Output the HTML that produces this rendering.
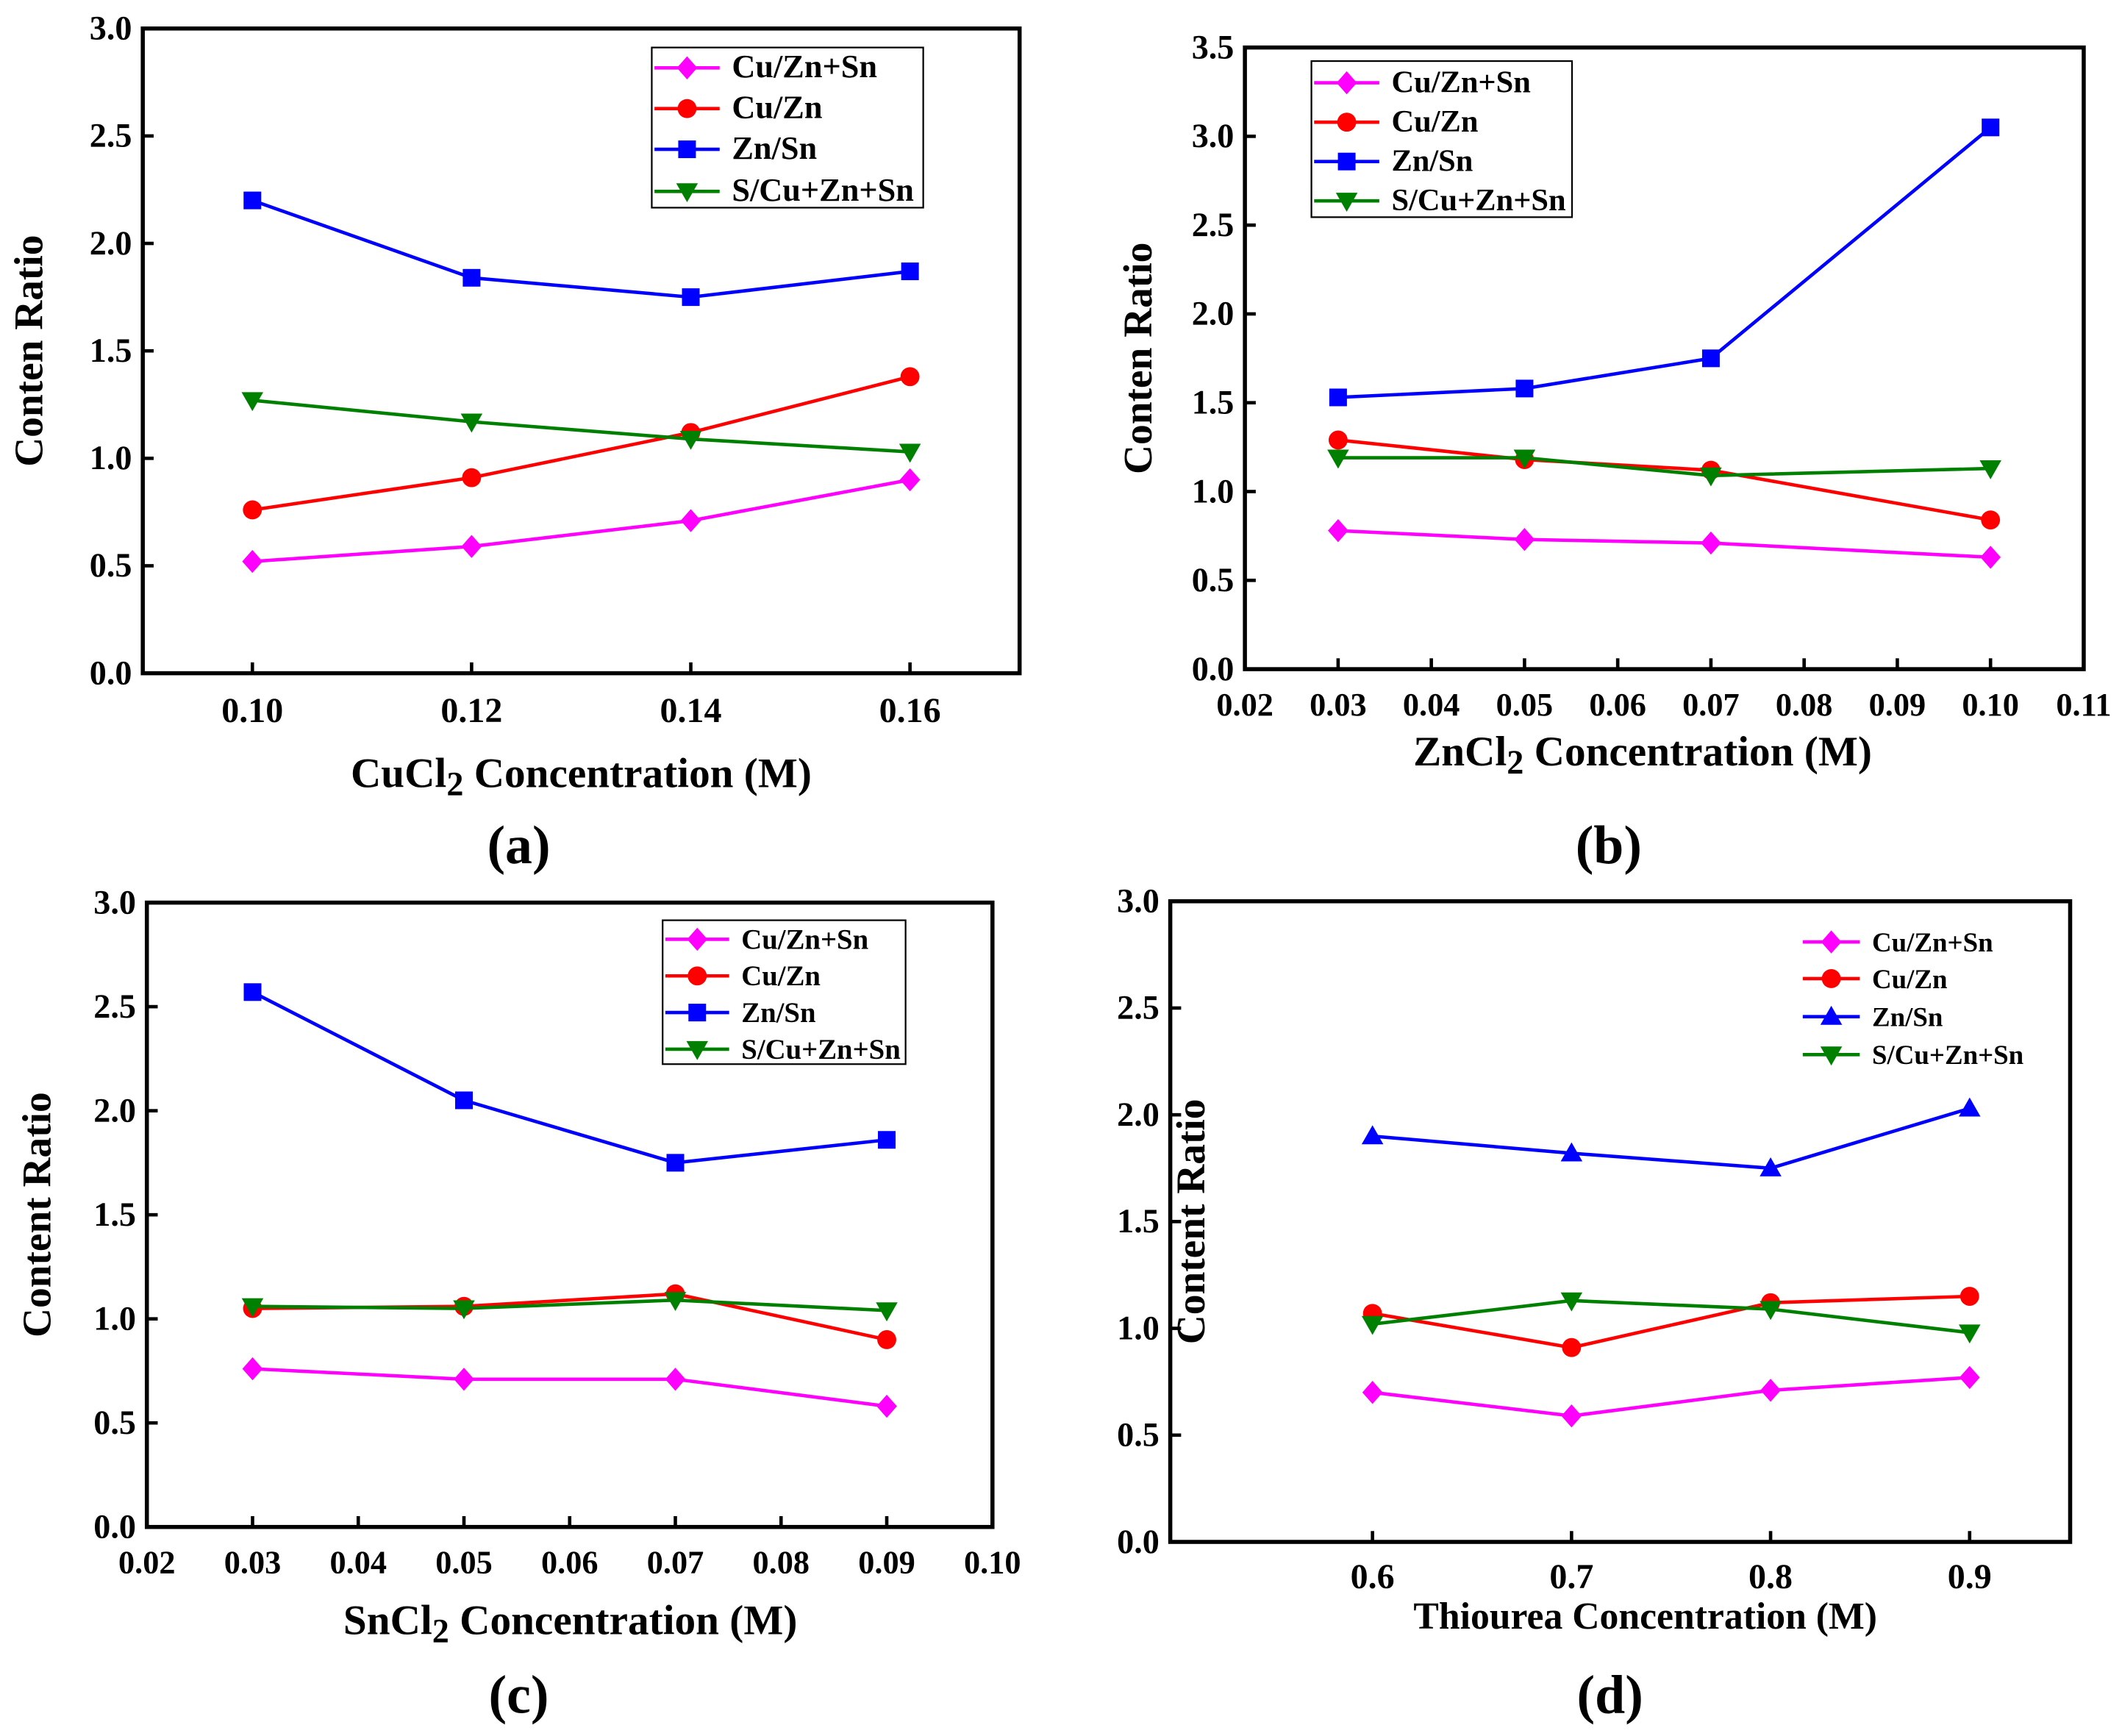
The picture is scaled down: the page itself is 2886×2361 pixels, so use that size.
<!DOCTYPE html>
<html><head><meta charset="utf-8"><style>
html,body{margin:0;padding:0;background:#fff}
svg{display:block}
text{font-family:"Liberation Serif",serif;font-weight:bold;fill:#000}
</style></head><body>
<svg id="fig" width="2886" height="2361" viewBox="0 0 1563 1279" xmlns="http://www.w3.org/2000/svg"></svg>
<script>
const seriesNames = ["Cu/Zn+Sn","Cu/Zn","Zn/Sn","S/Cu+Zn+Sn"];
const xA = [0.10,0.12,0.14,0.16];
const cuZnSnA = [0.52,0.59,0.71,0.90];
const cuZnA = [0.76,0.91,1.12,1.38];
const znSnA = [2.20,1.84,1.75,1.87];
const sA = [1.27,1.17,1.09,1.03];
const xB = [0.03,0.05,0.07,0.10];
const cuZnSnB = [0.78,0.73,0.71,0.63];
const cuZnB = [1.29,1.18,1.12,0.84];
const znSnB = [1.53,1.58,1.75,3.05];
const sB = [1.19,1.19,1.09,1.13];
const xC = [0.03,0.05,0.07,0.09];
const cuZnSnC = [0.76,0.71,0.71,0.58];
const cuZnC = [1.05,1.06,1.12,0.90];
const znSnC = [2.57,2.05,1.75,1.86];
const sC = [1.06,1.05,1.09,1.04];
const xD = [0.6,0.7,0.8,0.9];
const cuZnSnD = [0.70,0.59,0.71,0.77];
const cuZnD = [1.07,0.91,1.12,1.15];
const znSnD = [1.90,1.82,1.75,2.03];
const sD = [1.02,1.13,1.09,0.98];
const xTicksA = ["0.10","0.12","0.14","0.16"];
const xTicksB = ["0.02","0.03","0.04","0.05","0.06","0.07","0.08","0.09","0.10","0.11"];
const xTicksC = ["0.02","0.03","0.04","0.05","0.06","0.07","0.08","0.09","0.10"];
const xTicksD = ["0.6","0.7","0.8","0.9"];
const yTicks3 = ["0.0","0.5","1.0","1.5","2.0","2.5","3.0"];
const yTicks35 = ["0.0","0.5","1.0","1.5","2.0","2.5","3.0","3.5"];

const NS="http://www.w3.org/2000/svg";
const svg=document.getElementById('fig');
const colors=["#ff00ff","#ff0000","#0000ff","#008000"];
function mk(tag,attrs,parent){const e=document.createElementNS(NS,tag);for(const k in attrs)e.setAttribute(k,attrs[k]);(parent||svg).appendChild(e);return e;}
function marker(g,type,x,y,c){
  const s=7.5;let e;
  if(type==='diamond')e=mk('polygon',{points:`${x},${y-s-1} ${x+s},${y} ${x},${y+s+1} ${x-s},${y}`,fill:c},g);
  else if(type==='circle')e=mk('circle',{cx:x,cy:y,r:7,fill:c},g);
  else if(type==='square')e=mk('rect',{x:x-6.5,y:y-6.5,width:13,height:13,fill:c},g);
  else if(type==='up')e=mk('polygon',{points:`${x},${y-8} ${x+8},${y+6} ${x-8},${y+6}`,fill:c},g);
  else e=mk('polygon',{points:`${x-8},${y-6} ${x+8},${y-6} ${x},${y+8}`,fill:c},g);
  
  
}
function panel(p){
  const g=mk('g',{});
  
  
  const X=v=>p.l+(v-p.x0)/(p.x1-p.x0)*(p.r-p.l);
  const Y=v=>p.b-(v-p.y0)/(p.y1-p.y0)*(p.b-p.t);
  p.yt.forEach(lbl=>{const v=parseFloat(lbl);const y=Y(v);
    mk('line',{x1:p.l,y1:y,x2:p.l+8,y2:y,stroke:'#000','stroke-width':2.5},g);
    const t=mk('text',{x:p.l-8,y:y+8,'text-anchor':'end','font-size':25},g);t.textContent=lbl;
    });
  p.xt.forEach(lbl=>{const v=parseFloat(lbl);const x=X(v);
    mk('line',{x1:x,y1:p.b,x2:x,y2:p.b-8,stroke:'#000','stroke-width':2.5},g);
    const t=mk('text',{x:x,y:p.xly,'text-anchor':'middle','font-size':p.xfs||26},g);t.textContent=lbl;
    });
  const ax=mk('rect',{x:p.l,y:p.t,width:p.r-p.l,height:p.b-p.t,fill:'none',stroke:'#000','stroke-width':3},g);
  
  const types=['diamond','circle',p.znType,'down'];
  p.series.forEach((arr,i)=>{
    const pts=arr.map((v,j)=>X(p.xs[j])+','+Y(v)).join(' ');
    const pl=mk('polyline',{points:pts,fill:'none',stroke:colors[i],'stroke-width':2.5},g);
    
    
    arr.forEach((v,j)=>marker(g,types[i],X(p.xs[j]),Y(v),colors[i]));
  });
  const lg=mk('g',{},g);
  
  if(p.lbox)mk('rect',{x:p.lbox[0],y:p.lbox[1],width:p.lbox[2],height:p.lbox[3],fill:'#fff',stroke:'#000','stroke-width':1.2},lg);
  seriesNames.forEach((n,i)=>{const y=p.ly[i];
    mk('line',{x1:p.lx,y1:y,x2:p.lx+p.lw,y2:y,stroke:colors[i],'stroke-width':2.5},lg);
    marker(lg,types[i],p.lx+p.lw/2,y,colors[i]);
    const t=mk('text',{x:p.lx+p.lw+9,y:y+7,'font-size':p.lfs},lg);t.textContent=n;
    });
  const yt=mk('text',{x:0,y:0,'text-anchor':'middle','font-size':30,transform:`translate(${p.ytx},${(p.t+p.b)/2}) rotate(-90)`},g);
  yt.textContent=p.ytitle;
  const xt=mk('text',{x:p.xtx,y:p.xty,'text-anchor':'middle','font-size':p.xtfs||31},g);
  
  if(p.sub){xt.appendChild(document.createTextNode(p.xtitle[0]));const ts=mk('tspan',{'font-size':25,dy:6},xt);ts.textContent='2';const ts2=mk('tspan',{dy:-6},xt);ts2.textContent=p.xtitle[1];}
  else xt.textContent=p.xtitle;
  const pl=mk('text',{x:p.px,y:p.py,'text-anchor':'middle','font-size':40,'font-weight':'normal'},g);
  
  pl.innerHTML='(<tspan font-weight="bold">'+p.id+'</tspan>)';
}
panel({id:'a',l:105,r:751,t:21,b:496,x0:0.09,x1:0.17,y0:0,y1:3,xs:xA,series:[cuZnSnA,cuZnA,znSnA,sA],xt:xTicksA,yt:yTicks3,xly:532,znType:'square',
  lbox:[480,35,200,118],lx:482,lw:48,ly:[50,80,110,141],lfs:24,ytx:31,ytitle:'Conten Ratio',xtitle:['CuCl',' Concentration (M)'],sub:true,xtx:428,xty:580,px:382,py:636});
panel({id:'b',l:917,r:1535,t:35,b:493,x0:0.02,x1:0.11,y0:0,y1:3.5,xs:xB,series:[cuZnSnB,cuZnB,znSnB,sB],xt:xTicksB,yt:yTicks35,xly:527,xfs:24,znType:'square',
  lbox:[966,45,192,115],lx:968,lw:48,ly:[61,90,119,148],lfs:23,ytx:848,ytitle:'Conten Ratio',xtitle:['ZnCl',' Concentration (M)'],sub:true,xtx:1210,xty:564,px:1185,py:636});
panel({id:'c',l:108,r:731,t:665,b:1125,x0:0.02,x1:0.10,y0:0,y1:3,xs:xC,series:[cuZnSnC,cuZnC,znSnC,sC],xt:xTicksC,yt:yTicks3,xly:1159,xfs:24,znType:'square',
  lbox:[488,678,179,106],lx:490,lw:47,ly:[692,719,746,773],lfs:21,ytx:37,ytitle:'Content Ratio',xtitle:['SnCl',' Concentration (M)'],sub:true,xtx:420,xty:1204,px:382,py:1262});
panel({id:'d',l:862,r:1525,t:664,b:1136,x0:0.4984,x1:0.9505,y0:0,y1:3,xs:xD,series:[cuZnSnD,cuZnD,znSnD,sD],xt:xTicksD,yt:yTicks3,xly:1170,znType:'up',
  lbox:null,lx:1328,lw:42,ly:[694,721,749,777],lfs:20,ytx:887,ytitle:'Content Ratio',xtitle:'Thiourea Concentration (M)',xtfs:28,sub:false,xtx:1212,xty:1200,px:1186,py:1262});
</script>
</body></html>
